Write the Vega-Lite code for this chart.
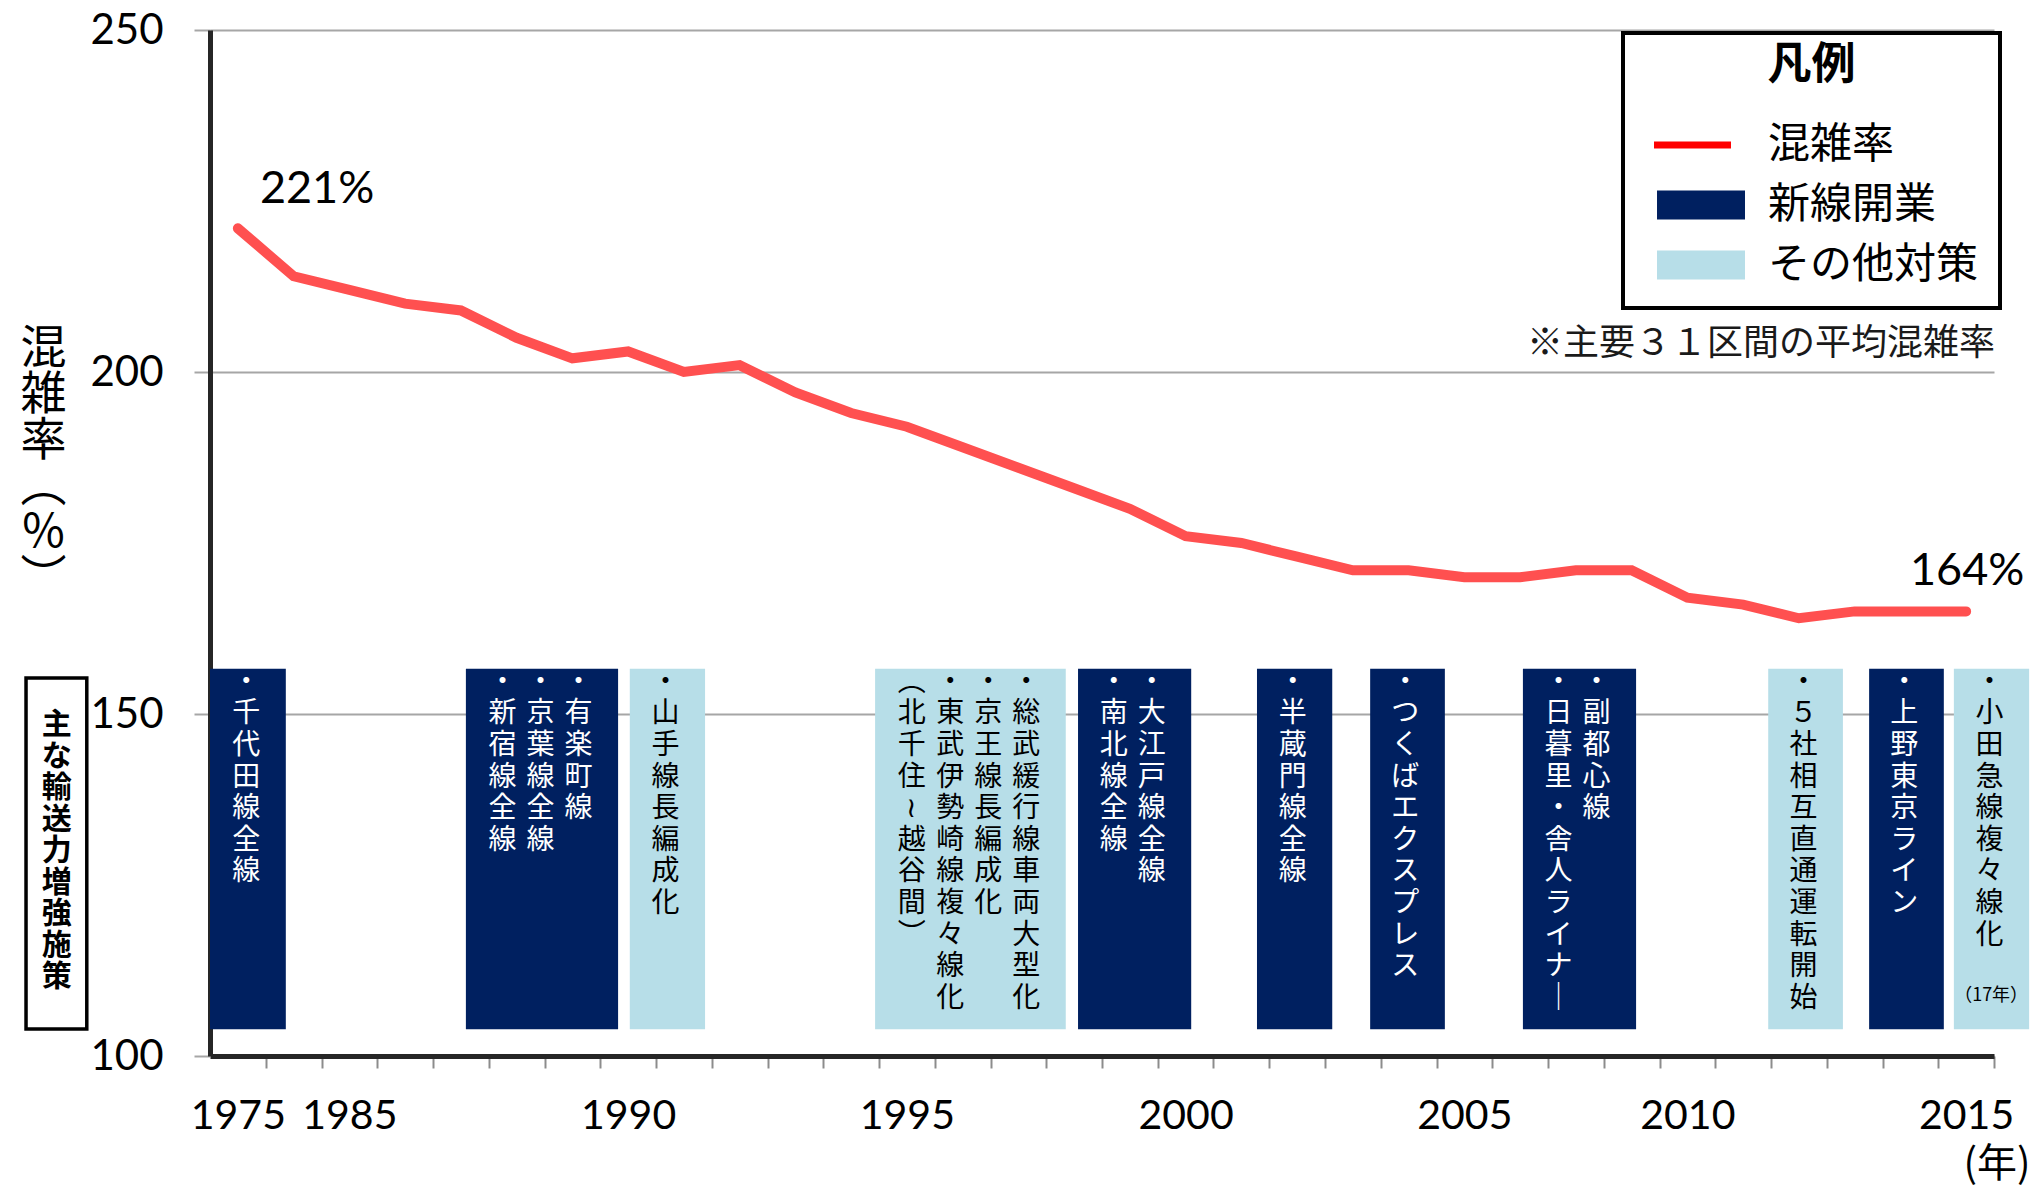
{
  "$schema": "https://vega.github.io/schema/vega-lite/v6.json",
  "width": 1784,
  "height": 1026,
  "autosize": {"type": "none"},
  "padding": {"left": 210, "top": 30, "right": 40, "bottom": 133},
  "background": "white",
  "config": {"view": {"stroke": null}},
  "datasets": {
    "rate": [
      {"year": 1975, "rate": 221, "label": "221%"},
      {"year": 1980, "rate": 214},
      {"year": 1985, "rate": 212},
      {"year": 1986, "rate": 210},
      {"year": 1987, "rate": 209},
      {"year": 1988, "rate": 205},
      {"year": 1989, "rate": 202},
      {"year": 1990, "rate": 203},
      {"year": 1991, "rate": 200},
      {"year": 1992, "rate": 201},
      {"year": 1993, "rate": 197},
      {"year": 1994, "rate": 194},
      {"year": 1995, "rate": 192},
      {"year": 1996, "rate": 189},
      {"year": 1997, "rate": 186},
      {"year": 1998, "rate": 183},
      {"year": 1999, "rate": 180},
      {"year": 2000, "rate": 176},
      {"year": 2001, "rate": 175},
      {"year": 2002, "rate": 173},
      {"year": 2003, "rate": 171},
      {"year": 2004, "rate": 171},
      {"year": 2005, "rate": 170},
      {"year": 2006, "rate": 170},
      {"year": 2007, "rate": 171},
      {"year": 2008, "rate": 171},
      {"year": 2010, "rate": 167},
      {"year": 2011, "rate": 166},
      {"year": 2012, "rate": 164},
      {"year": 2013, "rate": 165},
      {"year": 2014, "rate": 165},
      {"year": 2015, "rate": 165, "label": "164%"}
    ],
    "measures": [
      {"id": 1, "kind": "新線開業", "from": 1974.5, "to": 1979.86, "items": ["・千代田線全線"]},
      {"id": 2, "kind": "新線開業", "from": 1987.09, "to": 1989.82, "items": ["・有楽町線", "・京葉線全線", "・新宿線全線"]},
      {"id": 3, "kind": "その他対策", "from": 1990.03, "to": 1991.38, "items": ["・山手線長編成化"]},
      {"id": 4, "kind": "その他対策", "from": 1994.43, "to": 1997.85, "items": ["・総武緩行線車両大型化", "・京王線長編成化", "・東武伊勢崎線複々線化", "（北千住～越谷間）"]},
      {"id": 5, "kind": "新線開業", "from": 1998.07, "to": 2000.1, "items": ["・大江戸線全線", "・南北線全線"]},
      {"id": 6, "kind": "新線開業", "from": 2001.28, "to": 2002.63, "items": ["・半蔵門線全線"]},
      {"id": 7, "kind": "新線開業", "from": 2003.31, "to": 2004.65, "items": ["・つくばエクスプレス"]},
      {"id": 8, "kind": "新線開業", "from": 2006.05, "to": 2008.08, "items": ["・副都心線", "・日暮里・舎人ライナー"]},
      {"id": 9, "kind": "その他対策", "from": 2011.45, "to": 2012.79, "items": ["・５社相互直通運転開始"]},
      {"id": 10, "kind": "新線開業", "from": 2013.26, "to": 2014.6, "items": ["・上野東京ライン"]},
      {"id": 11, "kind": "その他対策", "from": 2014.78, "to": 2016.13, "items": ["・小田急線複々線化"], "note": "（17年）"}
    ]
  },
  "layer": [
    {
      "data": {"name": "measures"},
      "mark": {"type": "rect"},
      "encoding": {
        "x": {
          "field": "from",
          "type": "quantitative",
          "scale": {
            "type": "linear",
            "domain": [1974.5, 1975.5, 1979.5, 1980.5, 1984.5, 2008.5, 2009.5, 2015.5],
            "range": [0, 55.75, 55.75, 111.5, 111.5, 1449.5, 1449.5, 1784],
            "nice": false,
            "zero": false
          },
          "axis": {
            "values": [1975.5, 1980.5, 1985.5, 1986.5, 1987.5, 1988.5, 1989.5, 1990.5, 1991.5, 1992.5, 1993.5, 1994.5, 1995.5, 1996.5, 1997.5, 1998.5, 1999.5, 2000.5, 2001.5, 2002.5, 2003.5, 2004.5, 2005.5, 2006.5, 2007.5, 2008.5, 2010.5, 2011.5, 2012.5, 2013.5, 2014.5, 2015.5],
            "labelExpr": "indexof([1975.5, 1985.5, 1990.5, 1995.5, 2000.5, 2005.5, 2010.5, 2015.5], datum.value) >= 0 ? '' + floor(datum.value) : ''",
            "labelOffset": -27.875,
            "labelFont": "Lato",
            "labelFontSize": 41,
            "labelColor": "black",
            "labelPadding": 28,
            "labelOverlap": false,
            "labelFlush": false,
            "labelBound": false,
            "tickColor": "#8c8c8c",
            "tickWidth": 2,
            "tickSize": 12,
            "domainColor": "#262626",
            "domainWidth": 5,
            "grid": false,
            "title": "(年)",
            "titleX": 1820,
            "titleY": 88,
            "titleAlign": "right",
            "titleBaseline": "top",
            "titleFont": "Noto Sans CJK JP",
            "titleFontSize": 40,
            "titleFontWeight": "normal",
            "titleColor": "black"
          }
        },
        "x2": {"field": "to"},
        "y": {
          "datum": 156.6,
          "type": "quantitative",
          "scale": {"domain": [100, 250], "nice": false, "zero": false},
          "axis": {
            "values": [100, 150, 200, 250],
            "grid": true,
            "gridColor": "#a6a6a6",
            "gridWidth": 2,
            "tickColor": "#a6a6a6",
            "tickWidth": 2,
            "tickSize": 16,
            "domainColor": "#262626",
            "domainWidth": 5,
            "labelFont": "Lato",
            "labelFontSize": 42,
            "labelColor": "black",
            "labelPadding": 31,
            "title": ["混", "雑", "率", "︵", "％", "︶"],
            "titleAngle": 0,
            "titleX": -167,
            "titleY": 296,
            "titleAlign": "center",
            "titleBaseline": "top",
            "titleFont": "Noto Sans CJK JP",
            "titleFontSize": 46,
            "titleLineHeight": 46,
            "titleFontWeight": "normal",
            "titleColor": "black"
          }
        },
        "y2": {"datum": 103.9},
        "color": {
          "field": "kind",
          "type": "nominal",
          "scale": {"domain": ["混雑率", "新線開業", "その他対策"], "range": ["#ff0000", "#002060", "#b7dee8"]},
          "legend": {
            "title": "凡例",
            "orient": "none",
            "legendX": 1413,
            "legendY": 3,
            "padding": 21.5,
            "fillColor": "white",
            "strokeColor": "black",
            "titleFont": "Noto Sans CJK JP",
            "titleFontSize": 44,
            "titleFontWeight": "bold",
            "titleColor": "black",
            "titleAnchor": "middle",
            "titlePadding": 16.5,
            "labelFont": "Noto Sans CJK JP",
            "labelFontSize": 42,
            "labelColor": "black",
            "labelOffset": 63.5,
            "labelLimit": 500,
            "symbolSize": 3600,
            "symbolStrokeWidth": 0,
            "rowPadding": 9,
            "encode": {
              "title": {"update": {"dy": {"value": -11}}},
              "symbols": {"update": {"shape": {"signal": "datum.value === '混雑率' ? 'M-0.683,-0.117H1.883V0.117H-0.683Z' : 'M-0.583,-0.483H2.35V0.483H-0.583Z'"}, "strokeWidth": {"value": 0}}},
              "legend": {"update": {"stroke": {"value": "black"}, "strokeWidth": {"value": 4}}}
            }
          }
        }
      }
    },
    {
      "data": {"name": "measures"},
      "transform": [
        {"flatten": ["items"], "as": ["item"]},
        {"window": [{"op": "row_number", "as": "col"}], "groupby": ["id"]},
        {"calculate": "join(split(replace(replace(replace(replace(datum.item, regexp('ー', 'g'), '｜'), regexp('～', 'g'), '≀'), regexp('（', 'g'), '︵'), regexp('）', 'g'), '︶'), ''), '\\n')", "as": "vtext"}
      ],
      "encoding": {
        "x": {"field": "to", "type": "quantitative"},
        "y": {"datum": 156.6, "type": "quantitative"},
        "text": {"field": "vtext", "type": "nominal"},
        "color": {"condition": {"test": "datum.kind === 'その他対策'", "value": "black"}, "value": "white"}
      },
      "layer": [
        {"transform": [{"filter": "datum.col === 1"}], "mark": {"type": "text", "dx": -39.5, "align": "center", "baseline": "top", "font": "Noto Sans CJK JP", "fontSize": 28, "lineHeight": 31.6, "lineBreak": "\n"}},
        {"transform": [{"filter": "datum.col === 2"}], "mark": {"type": "text", "dx": -77.5, "align": "center", "baseline": "top", "font": "Noto Sans CJK JP", "fontSize": 28, "lineHeight": 31.6, "lineBreak": "\n"}},
        {"transform": [{"filter": "datum.col === 3"}], "mark": {"type": "text", "dx": -115.5, "align": "center", "baseline": "top", "font": "Noto Sans CJK JP", "fontSize": 28, "lineHeight": 31.6, "lineBreak": "\n"}},
        {"transform": [{"filter": "datum.col === 4"}], "mark": {"type": "text", "dx": -154, "align": "center", "baseline": "top", "font": "Noto Sans CJK JP", "fontSize": 28, "lineHeight": 31.6, "lineBreak": "\n"}}
      ]
    },
    {
      "data": {"name": "measures"},
      "transform": [{"filter": "isValid(datum.note)"}],
      "mark": {"type": "text", "dx": -38, "align": "center", "baseline": "middle", "font": "Noto Sans CJK JP", "fontSize": 18, "color": "black"},
      "encoding": {
        "x": {"field": "to", "type": "quantitative"},
        "y": {"datum": 108.8, "type": "quantitative"},
        "text": {"field": "note", "type": "nominal"}
      }
    },
    {
      "data": {"name": "rate"},
      "mark": {"type": "line", "color": "#ff5050", "strokeWidth": 10, "strokeCap": "round"},
      "encoding": {
        "x": {"field": "year", "type": "quantitative"},
        "y": {"field": "rate", "type": "quantitative"}
      }
    },
    {
      "data": {"name": "rate"},
      "transform": [{"filter": "datum.year === 1975"}],
      "mark": {"type": "text", "align": "left", "baseline": "middle", "dx": 22, "dy": -39, "font": "Lato", "fontSize": 45, "color": "black"},
      "encoding": {
        "x": {"field": "year", "type": "quantitative"},
        "y": {"field": "rate", "type": "quantitative"},
        "text": {"field": "label", "type": "nominal"}
      }
    },
    {
      "data": {"name": "rate"},
      "transform": [{"filter": "datum.year === 2015"}],
      "mark": {"type": "text", "align": "center", "baseline": "middle", "dx": 1, "dy": -40, "font": "Lato", "fontSize": 45, "color": "black"},
      "encoding": {
        "x": {"field": "year", "type": "quantitative"},
        "y": {"field": "rate", "type": "quantitative"},
        "text": {"field": "label", "type": "nominal"}
      }
    },
    {
      "data": {"values": [{"note": "※主要３１区間の平均混雑率"}]},
      "mark": {"type": "text", "align": "right", "baseline": "middle", "dx": 1, "font": "Noto Sans CJK JP", "fontSize": 36, "color": "#1a1a1a"},
      "encoding": {
        "x": {"datum": 2015.5, "type": "quantitative"},
        "y": {"datum": 204.1, "type": "quantitative"},
        "text": {"field": "note", "type": "nominal"}
      }
    },
    {
      "data": {"values": [{"label": "主な輸送力増強施策"}]},
      "mark": {"type": "rect", "fill": "white", "stroke": "black", "strokeWidth": 3.5},
      "encoding": {
        "x": {"datum": 1971.2, "type": "quantitative"},
        "x2": {"datum": 1972.29},
        "y": {"datum": 155.26, "type": "quantitative"},
        "y2": {"datum": 103.95}
      }
    },
    {
      "data": {"values": [{"label": "主な輸送力増強施策"}]},
      "transform": [{"calculate": "join(split(datum.label, ''), '\\n')", "as": "vtext"}],
      "mark": {"type": "text", "align": "center", "baseline": "top", "font": "Noto Sans CJK JP", "fontSize": 30, "fontWeight": "bold", "lineHeight": 31.5, "lineBreak": "\n", "color": "black"},
      "encoding": {
        "x": {"datum": 1971.75, "type": "quantitative"},
        "y": {"datum": 150.58, "type": "quantitative"},
        "text": {"field": "vtext", "type": "nominal"}
      }
    }
  ]
}
